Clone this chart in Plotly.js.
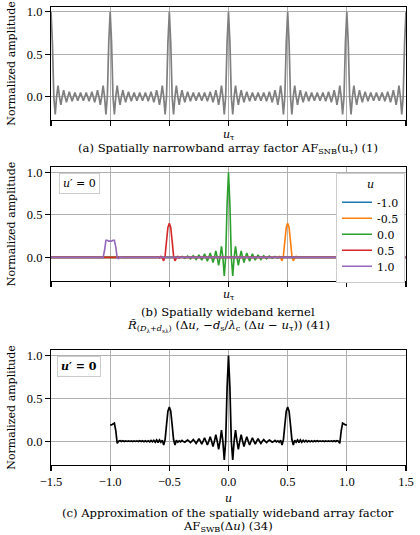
<!DOCTYPE html>
<html>
<head>
<meta charset="utf-8">
<script src="https://cdn.plot.ly/plotly-3.0.1.min.js"></script>
<style>
  html, body { margin: 0; padding: 0; background: #ffffff; }
  #chart { width: 420px; height: 535px; }
</style>
</head>
<body>
<div id="chart"></div>
<script>
// ---------------- data ----------------
const STEP = 1 / 84;

const uTicks = [-1.5, -1.0, -0.5, 0.0, 0.5, 1.0, 1.5];
const ampTicks = [0.0, 0.5, 1.0];

// (a) spatially narrowband array factor, sampled from u_tau = -1.5 to 1.5
const afSNB = [
 1,.64,0,-.21,0,.13,0,-.095,0,.076,0,-.065,0,.058,0,-.053,0,.05,0,-.048,0,.048,0,-.048,0,.05,0,-.053,0,.058,0,-.065,0,.076,0,-.095,0,.13,0,-.21,0,.64,
 1,.64,0,-.21,0,.13,0,-.095,0,.076,0,-.065,0,.058,0,-.053,0,.05,0,-.048,0,.048,0,-.048,0,.05,0,-.053,0,.058,0,-.065,0,.076,0,-.095,0,.13,0,-.21,0,.64,
 1,.64,0,-.21,0,.13,0,-.095,0,.076,0,-.065,0,.058,0,-.053,0,.05,0,-.048,0,.048,0,-.048,0,.05,0,-.053,0,.058,0,-.065,0,.076,0,-.095,0,.13,0,-.21,0,.64,
 1,.64,0,-.21,0,.13,0,-.095,0,.076,0,-.065,0,.058,0,-.053,0,.05,0,-.048,0,.048,0,-.048,0,.05,0,-.053,0,.058,0,-.065,0,.076,0,-.095,0,.13,0,-.21,0,.64,
 1,.64,0,-.21,0,.13,0,-.095,0,.076,0,-.065,0,.058,0,-.053,0,.05,0,-.048,0,.048,0,-.048,0,.05,0,-.053,0,.058,0,-.065,0,.076,0,-.095,0,.13,0,-.21,0,.64,
 1,.64,0,-.21,0,.13,0,-.095,0,.076,0,-.065,0,.058,0,-.053,0,.05,0,-.048,0,.048,0,-.048,0,.05,0,-.053,0,.058,0,-.065,0,.076,0,-.095,0,.13,0,-.21,0,.64,
 1
];
const afSNBStart = -1.5;

// (b) spatially wideband kernel, one curve per u; each curve is 0 outside its window
const kernelNames = ['-1.0', '-0.5', '0.0', '0.5', '1.0'];
const kernelColors = ['#1f77b4', '#ff7f0e', '#2ca02c', '#d62728', '#9467bd'];
const kernelStart = [1 - 8 / 84, 0.5 - 9 / 84, -38 / 84, -0.5 - 9 / 84, -1 - 6 / 84];
const kernelM10 = [0,.005,-.015,-.01,.12,.2,.2,.19,.19,.19,.2,.2,.08,0,0];
const kernelM05 = [0,.005,-.008,.01,-.01,-.04,.02,.19,.35,.4,.35,.19,.02,-.04,-.01,.01,-.008,.005,0];
const kernelP00 = [
 0,.006,0,-.008,0,.01,0,-.012,0,.014,0,-.017,0,.02,0,-.025,0,.03,0,-.034,0,.04,0,-.045,0,.052,0,-.062,0,.075,0,-.095,0,.13,0,-.22,0,.62,
 1,
 .62,0,-.22,0,.13,0,-.095,0,.075,0,-.062,0,.052,0,-.045,0,.04,0,-.034,0,.03,0,-.025,0,.02,0,-.017,0,.014,0,-.012,0,.01,0,-.008,0,.006,0
];
const kernelP05 = [0,.005,-.008,.01,-.01,-.04,.02,.19,.35,.4,.35,.19,.02,-.04,-.01,.01,-.008,.005,0];
const kernelP10 = [0,0,.08,.2,.2,.19,.19,.19,.2,.2,.12,-.01,-.015,.005,0];
const kernelValues = [kernelM10, kernelM05, kernelP00, kernelP05, kernelP10];

// (c) approximation of the spatially wideband array factor, u = -1.0 .. 1.0
const afSWBStart = -1.0;
const afSWB = [
 .19,.19,.2,.21,.12,-.025,0,.006,
 -.004,.005,-.004,.004,-.003,.004,-.003,.003,-.004,.004,-.003,.004,-.004,.005,-.004,.005,-.005,.006,-.005,.006,-.007,.008,-.008,.01,-.012,.014,
 -.015,.015,-.012,.01,-.045,.02,.19,.35,.4,.35,.19,.02,-.045,.01,-.012,.004,-.008,.01,-.004,
 -.012,.002,.014,0,-.017,0,.02,0,-.025,0,.03,0,-.034,0,.04,0,-.045,0,.052,0,-.062,0,.075,0,-.095,0,.13,0,-.22,0,.62,
 1,
 .62,0,-.22,0,.13,0,-.095,0,.075,0,-.062,0,.052,0,-.045,0,.04,0,-.034,0,.03,0,-.025,0,.02,0,-.017,0,.014,.002,-.012,
 -.004,.01,-.008,.004,-.012,.01,-.045,.02,.19,.35,.4,.35,.19,.02,-.045,.01,-.012,.015,-.015,
 .014,-.012,.01,-.008,.008,-.007,.006,-.005,.006,-.005,.005,-.004,.005,-.004,.004,-.003,.004,-.004,.003,-.003,.004,-.003,.004,-.004,.005,-.004,
 .006,0,-.025,.12,.21,.2,.19,.19
];

// ---------------- drawing ----------------
function samplePositions(start, vals) { return vals.map((_, i) => start + i * STEP); }

const TEXT_FONT = 'DejaVu Serif, Liberation Serif, serif';
const TICK_FONT = 'Liberation Serif, DejaVu Serif, serif';
const W = 420, H = 535;
const px = v => v / W;           // horizontal pixel -> paper
const py = v => 1 - v / H;       // vertical pixel (from top) -> paper

const traces = [];
traces.push({
  x: samplePositions(afSNBStart, afSNB), y: afSNB,
  xaxis: 'x', yaxis: 'y', mode: 'lines', showlegend: false,
  line: { color: '#7f7f7f', width: 1.7, simplify: false }, hoverinfo: 'skip'
});
kernelNames.forEach((name, i) => {
  const vals = kernelValues[i];
  traces.push({
    x: [-1.5, ...samplePositions(kernelStart[i], vals), 1.5],
    y: [0, ...vals, 0],
    xaxis: 'x2', yaxis: 'y2', mode: 'lines', name: name,
    line: { color: kernelColors[i], width: 1.6, simplify: false }, hoverinfo: 'skip'
  });
});
traces.push({
  x: samplePositions(afSWBStart, afSWB), y: afSWB,
  xaxis: 'x3', yaxis: 'y3', mode: 'lines', showlegend: false,
  line: { color: '#000000', width: 1.7, simplify: false }, hoverinfo: 'skip'
});

const axBase = {
  showline: true, mirror: true, linecolor: '#000000', linewidth: 1.1,
  ticks: 'outside', ticklen: 5, tickwidth: 1.1, tickcolor: '#000000',
  showgrid: true, gridcolor: '#b0b0b0', gridwidth: 1, zeroline: false,
  tickfont: { family: TICK_FONT, size: 12.5, color: '#000000' }, fixedrange: true
};
const xDom = [px(51), px(406)];
const yTitle = { text: 'Normalized amplitude', font: { family: TEXT_FONT, size: 11, color: '#000000' }, standoff: 8 };

const xa = (anchor, labels) => Object.assign({}, axBase, {
  domain: xDom, range: [-1.5, 1.5], tickvals: uTicks, tickformat: '.1f',
  showticklabels: labels, anchor: anchor
});
const ya = (anchor, dom, range) => Object.assign({}, axBase, {
  domain: dom, range: range, tickvals: ampTicks, tickformat: '.1f',
  anchor: anchor, title: yTitle
});

const txt = (text, x, y, extra) => Object.assign({
  text: text, xref: 'paper', yref: 'paper', x: x, y: y,
  xanchor: 'center', yanchor: 'middle', showarrow: false,
  font: { family: TEXT_FONT, size: 11, color: '#000000' }
}, extra || {});
const capFont = { font: { family: TEXT_FONT, size: 11.6, color: '#000000' } };

const boxStyle = { bordercolor: '#cccccc', borderwidth: 1, borderpad: 3, bgcolor: '#ffffff' };
const cx = px(228.5);

const layout = {
  width: W, height: H,
  margin: { l: 0, r: 0, t: 0, b: 0, pad: 0 },
  paper_bgcolor: '#ffffff', plot_bgcolor: '#ffffff',
  font: { family: TEXT_FONT, size: 11, color: '#000000' },
  xaxis: xa('y', false),
  yaxis: ya('x', [py(120.3), py(6.7)], [-0.278, 1.061]),
  xaxis2: xa('y2', false),
  yaxis2: ya('x2', [py(281), py(167)], [-0.278, 1.061]),
  xaxis3: xa('y3', true),
  yaxis3: ya('x3', [py(465), py(350)], [-0.278, 1.065]),
  showlegend: true,
  legend: {
    x: px(336), xanchor: 'left', y: py(172.5), yanchor: 'top',
    bgcolor: '#ffffff', bordercolor: '#cccccc', borderwidth: 1,
    font: { family: TEXT_FONT, size: 11, color: '#000000' },
    title: { text: '<i>u</i>', side: 'top center', font: { family: TEXT_FONT, size: 11, color: '#000000' } },
    itemwidth: 30, tracegroupgap: 0
  },
  annotations: [
    txt('<i>u</i><sub>τ</sub>', cx, py(134.5)),
    txt('(a) Spatially narrowband array factor AF<sub>SNB</sub>(u<sub>τ</sub>) (1)', cx, py(148), capFont),
    txt('<i>u</i><sub>τ</sub>', cx, py(295)),
    txt('(b) Spatially wideband kernel', cx, py(311.5), capFont),
    txt('<i>R̃</i><sub>(<i>D</i><sub>λ</sub>+<i>d</i><sub>s</sub><sub>λ</sub>)</sub> (Δ<i>u</i>, −<i>d</i><sub>s</sub>/<i>λ</i><sub>c</sub> (Δ<i>u</i> − <i>u</i><sub>τ</sub>)) (41)', cx, py(325.5), capFont),
    txt('<i>u</i>', cx, py(498)),
    txt('(c) Approximation of the spatially wideband array factor', cx, py(512.5), capFont),
    txt('AF<sub>SWB</sub>(Δ<i>u</i>) (34)', cx, py(526), capFont),
    txt('<i>u</i>′ = 0', px(79), py(183), boxStyle),
    txt('<b><i>u</i>′ = 0</b>', px(79), py(366), boxStyle)
  ]
};

// tighten the legend rows to the reference's row pitch (Plotly's minimum row is 19 px)
function tightenLegend(gd) {
  const leg = gd.querySelector('.legend');
  if (!leg) return;
  const items = Array.from(leg.querySelectorAll('g.traces'));
  if (items.length < 2) return;
  const PITCH = 16;
  let y0 = null, lastOld = null;
  items.forEach((it, i) => {
    const m = (it.getAttribute('transform') || '').match(/translate\(\s*([-\d.e]+)[\s,]*([-\d.e]+)?\s*\)/);
    if (!m) return;
    const x = parseFloat(m[1]), y = parseFloat(m[2] || 0);
    if (i === 0) y0 = y;
    lastOld = y;
    it.setAttribute('transform', 'translate(' + x + ',' + (y0 + i * PITCH) + ')');
  });
  if (y0 === null) return;
  const saved = lastOld - (y0 + (items.length - 1) * PITCH);
  leg.querySelectorAll('rect.bg').forEach(r => {
    const h = parseFloat(r.getAttribute('height'));
    if (!isNaN(h)) r.setAttribute('height', h - saved);
  });
}

const gd = document.getElementById('chart');
Plotly.newPlot(gd, traces, layout, { staticPlot: true, displayModeBar: false })
  .then(() => tightenLegend(gd));
</script>
</body>
</html>
